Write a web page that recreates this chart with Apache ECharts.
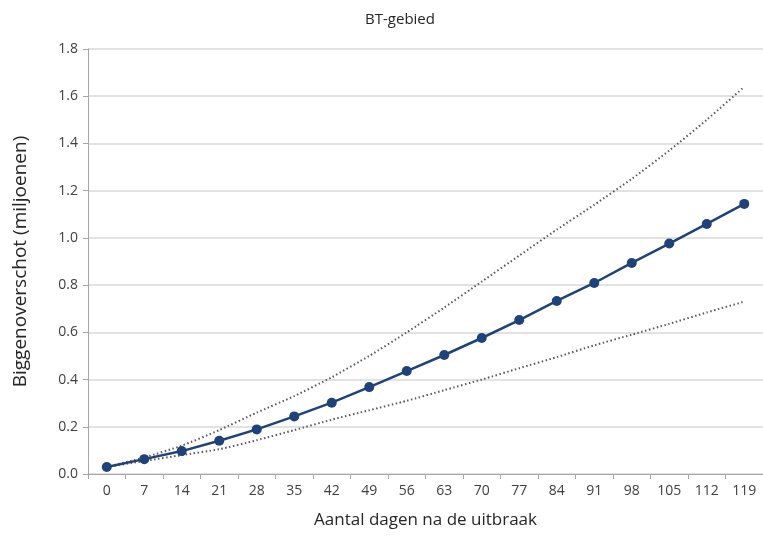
<!DOCTYPE html>
<html>
<head>
<meta charset="utf-8">
<script src="https://cdn.jsdelivr.net/npm/echarts@6/dist/echarts.min.js"></script>
<style>html,body{margin:0;padding:0;background:#fff}#c{width:763px;height:538px}</style>
</head>
<body>
<div id="c"></div>
<script>
const categories = ['0','7','14','21','28','35','42','49','56','63','70','77','84','91','98','105','112','119'];
const mainValues = [0.03,0.063,0.097,0.141,0.189,0.244,0.302,0.368,0.436,0.504,0.576,0.652,0.733,0.809,0.894,0.976,1.059,1.144];
const upperValues = [0.03,0.07,0.12,0.186,0.26,0.33,0.41,0.50,0.60,0.705,0.815,0.925,1.035,1.14,1.25,1.37,1.50,1.64];
const lowerValues = [0.03,0.055,0.08,0.105,0.143,0.186,0.23,0.27,0.31,0.355,0.40,0.448,0.495,0.545,0.59,0.636,0.684,0.73];
const yTicks = [0,0.2,0.4,0.6,0.8,1.0,1.2,1.4,1.6,1.8];

const chart = echarts.init(document.getElementById('c'));
const font = "'Open Sans', 'Liberation Sans', sans-serif";
chart.setOption({
  animation: false,
  backgroundColor: '#fff',
  title: {
    text: 'BT-gebied', left: 395, top: 7, textAlign: 'center',
    textStyle: {fontFamily: font, fontSize: 15, fontWeight: 'normal', color: '#262626'}
  },
  grid: {left: 88, right: 0, top: 49, bottom: 64},
  xAxis: {
    type: 'category', data: categories, boundaryGap: true,
    name: 'Aantal dagen na de uitbraak', nameLocation: 'middle', nameGap: 38,
    nameTextStyle: {fontFamily: font, fontSize: 17, color: '#262626'},
    axisLine: {lineStyle: {color: '#a6a6a6'}},
    axisTick: {show: true, alignWithLabel: false, length: 5, lineStyle: {color: '#a6a6a6'}},
    axisLabel: {fontFamily: font, fontSize: 14, color: '#404040', margin: 10}
  },
  yAxis: {
    type: 'value', min: 0, max: 1.8, interval: 0.2,
    name: 'Biggenoverschot (miljoenen)', nameLocation: 'middle', nameGap: 58,
    nameTextStyle: {fontFamily: font, fontSize: 19, color: '#262626'},
    axisLine: {show: true, lineStyle: {color: '#a6a6a6'}},
    axisTick: {show: true, length: 5, lineStyle: {color: '#a6a6a6'}},
    axisLabel: {fontFamily: font, fontSize: 14, color: '#404040', margin: 10,
      formatter: v => v.toFixed(1)},
    splitLine: {lineStyle: {color: '#d9d9d9', width: 1.5}}
  },
  series: [
    {type: 'line', data: upperValues, symbol: 'none', smooth: 0.2,
     lineStyle: {color: '#5a5a5a', width: 2, type: [1.5, 2.5]}},
    {type: 'line', data: lowerValues, symbol: 'none', smooth: 0.2,
     lineStyle: {color: '#5a5a5a', width: 2, type: [1.5, 2.5]}},
    {type: 'line', data: mainValues, symbol: 'circle', symbolSize: 10,
     itemStyle: {color: '#1f4378'}, lineStyle: {color: '#1f4378', width: 2.5}}
  ]
});
</script>
</body>
</html>
